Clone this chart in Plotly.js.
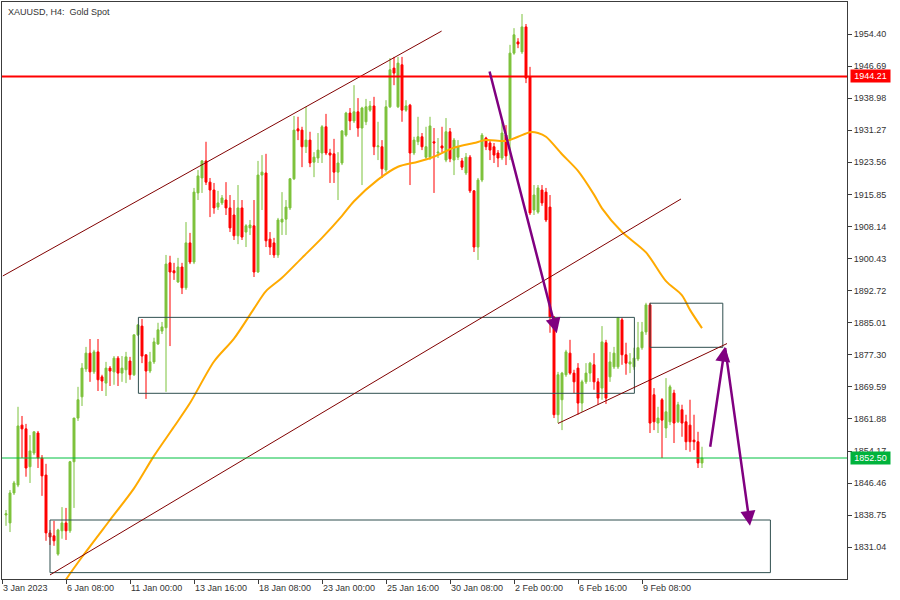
<!DOCTYPE html>
<html>
<head>
<meta charset="utf-8">
<script src="https://cdn.plot.ly/plotly-3.0.1.min.js"></script>
<style>html,body{margin:0;padding:0;background:#fff;}#chart{width:900px;height:600px;}</style>
</head>
<body>
<div id="chart"></div>
<script>
// ---- data (H4 bars, index = bar number from the left edge) ----
const firstBar = 1;
const opens = [1838.8,1836.9,1844.1,1846.0,1860.4,1859.5,1850.4,1853.7,1858.5,1852.5,
1848.4,1834.5,1833.8,1829.4,1835.0,1836.9,1835.0,1851.6,1862.1,1867.2,
1873.9,1877.7,1873.2,1878.0,1872.0,1870.5,1874.1,1873.2,1876.5,1872.9,
1873.7,1875.8,1872.5,1882.1,1884.2,1877.3,1873.4,1875.6,1879.9,1883.0,
1883.8,1899.4,1897.5,1894.8,1898.4,1893.4,1904.2,1899.6,1916.2,1919.8,
1923.9,1918.8,1916.9,1912.8,1913.8,1914.5,1912.6,1910.9,1905.9,1912.6,
1906.8,1907.8,1908.3,1897.2,1920.5,1921.0,1905.1,1904.2,1901.3,1909.2,
1909.9,1912.6,1919.6,1931.6,1931.3,1927.3,1928.9,1923.6,1924.6,1925.8,
1932.1,1925.8,1925.6,1921.2,1923.4,1930.1,1935.4,1933.5,1935.7,1931.8,
1933.3,1936.1,1937.1,1927.3,1927.3,1921.7,1936.9,1946.2,1936.9,1947.0,
1936.1,1937.3,1925.8,1928.5,1929.7,1924.8,1924.8,1928.5,1925.8,1927.5,
1924.1,1930.9,1924.1,1924.8,1923.9,1921.0,1924.8,1916.7,1903.2,1919.3,
1929.4,1928.2,1927.3,1925.8,1924.6,1930.1,1928.9,1949.8,1952.5,1950.1,
1956.1,1944.1,1912.1,1911.6,1916.9,1916.4,1912.8,1886.4,1862.9,1866.5,
1872.5,1877.7,1872.9,1874.1,1865.7,1870.8,1872.9,1874.9,1870.8,1869.3,
1880.2,1872.0,1874.4,1874.4,1885.7,1877.3,1875.1,1874.4,1876.3,1879.0,
1882.8,1889.3,1867.7,1860.9,1866.5,1859.7,1861.2,1868.1,1861.2,1864.1,
1861.2,1860.4,1856.8,1856.4,1851.3];
const highs = [1840.0,1844.8,1847.0,1864.8,1862.6,1860.7,1858.0,1858.8,1859.0,1853.2,
1851.1,1835.2,1837.4,1835.5,1840.7,1840.5,1851.8,1862.1,1869.6,1875.3,
1879.2,1881.1,1878.5,1881.1,1872.5,1875.6,1874.6,1877.0,1877.0,1877.0,
1878.0,1876.8,1882.1,1884.5,1885.9,1877.3,1878.0,1881.4,1885.0,1885.2,
1901.3,1901.1,1899.4,1900.6,1899.4,1909.2,1906.6,1917.4,1921.7,1924.1,
1928.5,1919.8,1918.6,1916.7,1915.7,1918.8,1915.7,1914.5,1918.1,1914.5,
1908.7,1909.7,1914.5,1923.9,1925.3,1925.6,1906.8,1905.4,1910.2,1916.4,
1914.5,1919.8,1934.7,1934.5,1932.1,1936.9,1930.9,1926.0,1930.6,1932.5,
1935.2,1926.8,1929.2,1926.0,1931.3,1935.7,1936.6,1942.1,1939.0,1936.9,
1938.8,1938.3,1939.3,1933.3,1928.9,1938.5,1948.6,1948.9,1948.9,1948.9,
1938.5,1937.6,1929.7,1934.5,1930.6,1932.1,1934.5,1931.8,1929.4,1932.1,
1934.2,1931.8,1929.4,1928.9,1924.6,1925.8,1925.3,1916.9,1919.8,1930.6,
1929.7,1928.7,1928.2,1926.5,1933.3,1932.5,1951.8,1955.8,1953.4,1959.2,
1956.8,1946.5,1918.1,1918.1,1918.1,1917.4,1915.7,1886.6,1873.2,1873.2,
1878.5,1880.9,1873.7,1875.3,1871.3,1875.3,1875.6,1877.7,1871.7,1884.2,
1880.9,1878.0,1879.2,1886.4,1886.2,1880.2,1877.7,1879.0,1885.2,1885.2,
1889.8,1889.8,1869.3,1864.8,1866.9,1871.7,1870.1,1868.9,1866.0,1865.3,
1862.9,1866.5,1862.9,1858.8,1855.2];
const lows = [1836.2,1834.7,1843.6,1845.5,1852.5,1848.0,1846.5,1853.2,1850.1,1843.4,
1832.6,1831.6,1831.4,1829.0,1833.1,1832.8,1834.5,1840.5,1861.4,1865.0,
1873.2,1870.8,1872.7,1868.6,1868.6,1867.4,1869.8,1870.1,1869.8,1870.8,
1870.5,1871.3,1872.2,1881.8,1875.3,1866.7,1872.9,1875.1,1879.7,1882.3,
1868.4,1879.4,1895.3,1894.6,1891.9,1892.9,1899.1,1899.1,1914.5,1916.2,
1918.1,1910.4,1911.2,1912.1,1913.3,1910.9,1906.8,1904.9,1903.9,1904.9,
1903.2,1906.1,1896.0,1897.0,1912.1,1903.2,1901.3,1900.6,1900.6,1906.1,
1906.1,1912.1,1919.3,1928.9,1922.4,1925.8,1922.4,1920.0,1923.4,1923.4,
1925.3,1918.6,1918.6,1914.5,1922.9,1929.7,1931.3,1933.0,1929.7,1918.1,
1932.5,1935.7,1925.3,1924.1,1919.8,1921.2,1936.6,1942.1,1936.6,1933.3,
1935.7,1918.1,1925.3,1927.7,1926.5,1924.1,1924.1,1916.2,1924.6,1926.0,
1923.6,1923.6,1920.5,1924.1,1921.7,1920.5,1916.2,1902.0,1900.1,1918.8,
1926.5,1924.1,1923.4,1922.4,1924.1,1922.9,1924.1,1949.4,1951.0,1949.6,
1942.6,1910.9,1910.9,1911.2,1913.1,1909.2,1882.6,1862.1,1860.9,1859.2,
1872.0,1872.5,1868.1,1862.9,1863.6,1870.3,1870.8,1868.9,1865.3,1866.5,
1865.5,1870.8,1873.9,1873.9,1874.9,1872.5,1872.9,1873.7,1875.8,1878.5,
1882.1,1858.5,1859.2,1858.5,1852.5,1857.3,1860.4,1856.1,1860.9,1857.6,
1854.4,1854.0,1854.4,1850.1,1850.1];
const closes = [1839.1,1844.1,1846.5,1860.2,1859.5,1850.1,1854.2,1858.8,1852.5,1848.2,
1834.5,1833.5,1832.6,1835.2,1836.9,1835.0,1851.6,1862.1,1866.5,1874.1,
1877.7,1873.2,1878.0,1871.3,1871.0,1874.1,1873.4,1876.5,1872.9,1874.1,
1876.8,1872.5,1882.1,1884.5,1877.0,1873.4,1875.6,1880.4,1883.3,1884.0,
1899.1,1897.2,1897.0,1898.4,1893.4,1904.2,1899.6,1916.4,1920.3,1923.9,
1918.8,1916.9,1912.6,1913.8,1915.0,1912.6,1907.8,1905.9,1912.6,1905.6,
1908.3,1908.5,1897.2,1920.5,1921.2,1904.7,1903.2,1901.3,1909.7,1909.9,
1912.8,1919.6,1931.3,1931.1,1927.3,1928.9,1923.4,1924.8,1926.5,1932.1,
1925.8,1925.3,1921.2,1923.4,1931.1,1935.4,1933.5,1935.7,1931.8,1936.6,
1936.9,1937.1,1927.3,1927.5,1922.0,1936.9,1945.8,1945.0,1947.4,1936.1,
1937.1,1925.8,1928.9,1929.7,1927.3,1927.3,1932.3,1928.2,1926.0,1927.0,
1930.9,1924.4,1928.9,1927.3,1922.4,1924.8,1916.7,1903.2,1919.3,1930.1,
1927.3,1926.5,1925.3,1924.6,1930.6,1925.1,1949.8,1954.2,1952.0,1956.1,
1943.8,1911.4,1915.7,1917.4,1913.8,1909.7,1886.4,1862.9,1872.5,1872.9,
1878.0,1872.9,1870.8,1865.7,1870.8,1872.9,1875.3,1870.8,1866.9,1880.4,
1866.9,1875.6,1877.7,1886.2,1877.3,1875.3,1875.6,1876.5,1879.0,1882.8,
1889.3,1860.9,1861.2,1862.1,1861.6,1863.6,1869.6,1860.9,1865.3,1860.9,
1856.4,1856.4,1856.4,1851.3,1852.5];

// moving average (bar index, value)
const maBars   = [13,16,20,27,33,38,43,47,53,58,63,66,70,75,80,85,88,94,99,104,108,113,118,121,126,129,132,134,136,140,144,148,150,155,161,166,170,172,175];
const maValues = [1818.9,1823.3,1828.7,1837.6,1845.2,1853.0,1860.0,1865.7,1875.7,1881.2,1888.4,1892.6,1895.8,1900.6,1905.4,1910.7,1914.2,1919.4,1922.5,1923.7,1924.9,1927.1,1928.2,1928.9,1928.7,1929.7,1930.8,1930.6,1929.7,1925.5,1921.5,1915.8,1912.5,1906.8,1901.9,1895.0,1891.6,1888.1,1883.7];

// axis ticks
const timeTickBars   = [0,16,32,48,64,80,96,112,128,144,160];
const timeTickLabels = ['3 Jan 2023','6 Jan 08:00','11 Jan 00:00','13 Jan 16:00','18 Jan 08:00','23 Jan 00:00','25 Jan 16:00','30 Jan 08:00','2 Feb 00:00','6 Feb 16:00','9 Feb 08:00'];
const priceTicks = [1831.04,1838.75,1846.46,1854.17,1861.88,1869.59,1877.30,1885.01,1892.72,1900.43,1908.14,1915.85,1923.56,1931.27,1938.98,1946.69,1954.40];

// horizontal levels
const resistanceLevel = 1944.21;
const currentPrice = 1852.50;

// drawn objects (bar index, price)
const trendLines = [
  {from:[0.2,1896.25], to:[109.9,1955.1]},
  {from:[12,1824.4],  to:[169.75,1914.75]},
  {from:[139,1860.8], to:[181.25,1880.0]}
];
const zones = [
  {bars:[34.1,158.1], prices:[1868.05,1886.3]},
  {bars:[12,192.1],   prices:[1824.95,1837.6]},
  {bars:[162,180.2],  prices:[1879.1,1889.7]}
];
const arrows = [
  {from:[121.8,1945.75], to:[138.7,1882.5]},
  {from:[177,1854.85],   to:[180.75,1879.25]},
  {from:[180.75,1879.25],to:[187,1836.2]}
];

// ---- chart ----
const FONT = "'Liberation Sans', Arial, sans-serif";
const FS = 9;
const AX = '#3c3c3c';
const barX = opens.map((_, k) => firstBar + k);

const candles = {
  type: 'candlestick', x: barX, open: opens, high: highs, low: lows, close: closes,
  increasing: {line: {color: '#7DC23C', width: 1}, fillcolor: '#7DC23C'},
  decreasing: {line: {color: '#FF0000', width: 1}, fillcolor: '#FF0000'},
  whiskerwidth: 0, hoverinfo: 'skip', showlegend: false
};
const ma = {
  type: 'scatter', mode: 'lines', x: maBars, y: maValues,
  line: {color: '#FFAA00', width: 2, shape: 'spline', smoothing: 0.8}, hoverinfo: 'skip', showlegend: false
};

const shapes = [];
zones.forEach(z => shapes.push({type:'rect', xref:'x', yref:'y', x0:z.bars[0], x1:z.bars[1], y0:z.prices[0], y1:z.prices[1],
  line:{color:'#2F4F4F', width:1}, fillcolor:'rgba(0,0,0,0)'}));
trendLines.forEach(t => shapes.push({type:'line', xref:'x', yref:'y', x0:t.from[0], y0:t.from[1], x1:t.to[0], y1:t.to[1],
  line:{color:'#800000', width:1}}));
shapes.push({type:'line', xref:'paper', yref:'y', x0:0, x1:1, y0:resistanceLevel, y1:resistanceLevel, line:{color:'#FF0000', width:2}});
shapes.push({type:'line', xref:'paper', yref:'y', x0:0, x1:1, y0:currentPrice, y1:currentPrice, line:{color:'#00C040', width:1}});

const annotations = [];
arrows.forEach(a => annotations.push({x:a.to[0], y:a.to[1], xref:'x', yref:'y', ax:a.from[0], ay:a.from[1], axref:'x', ayref:'y',
  text:'', showarrow:true, arrowhead:2, arrowsize:1.2, arrowwidth:2.5, arrowcolor:'#800080', standoff:0, startstandoff:0}));
annotations.push({xref:'paper', yref:'paper', x:0, y:1, xanchor:'left', yanchor:'top', xshift:4, yshift:-3,
  text:'XAUUSD, H4:\u00a0 Gold Spot', showarrow:false, font:{family:FONT, size:FS, color:'#333333'}});
annotations.push({xref:'paper', yref:'y', x:1, y:resistanceLevel, xanchor:'left', yanchor:'middle', xshift:3,
  text:resistanceLevel.toFixed(2), showarrow:false, bgcolor:'#FF0000', width:37, height:10, borderpad:1,
  font:{family:FONT, size:FS, color:'#ffffff'}});
annotations.push({xref:'paper', yref:'y', x:1, y:currentPrice, xanchor:'left', yanchor:'middle', xshift:3,
  text:currentPrice.toFixed(2), showarrow:false, bgcolor:'#00B33C', width:37, height:10, borderpad:1,
  font:{family:FONT, size:FS, color:'#ffffff'}});

const layout = {
  width: 900, height: 600,
  margin: {l: 2, r: 53, t: 2, b: 21, pad: 0},
  paper_bgcolor: '#ffffff', plot_bgcolor: '#ffffff',
  showlegend: false, hovermode: false, boxgap: 0.3,
  font: {family: FONT, size: FS, color: '#333333'},
  xaxis: {
    type: 'linear', range: [0, 211.25], rangeslider: {visible: false},
    tickmode: 'array', tickvals: timeTickBars, ticktext: timeTickLabels,
    tickangle: 0, automargin: false,
    ticks: 'outside', ticklen: 4, tickwidth: 1, tickcolor: AX, ticklabelposition: 'outside right',
    showline: true, linecolor: AX, linewidth: 1, mirror: true,
    showgrid: false, zeroline: false, fixedrange: true,
    tickfont: {family: FONT, size: FS, color: '#333333'}
  },
  yaxis: {
    side: 'right', range: [1823.42, 1962.09], automargin: false,
    tickmode: 'array', tickvals: priceTicks, tickformat: '.2f',
    ticks: 'outside', ticklen: 4, tickwidth: 1, tickcolor: AX,
    showline: true, linecolor: AX, linewidth: 1, mirror: true,
    showgrid: false, zeroline: false, fixedrange: true,
    tickfont: {family: FONT, size: FS, color: '#333333'}
  },
  shapes: shapes,
  annotations: annotations
};

Plotly.newPlot('chart', [candles, ma], layout, {staticPlot: true, displayModeBar: false});
</script>
</body>
</html>
